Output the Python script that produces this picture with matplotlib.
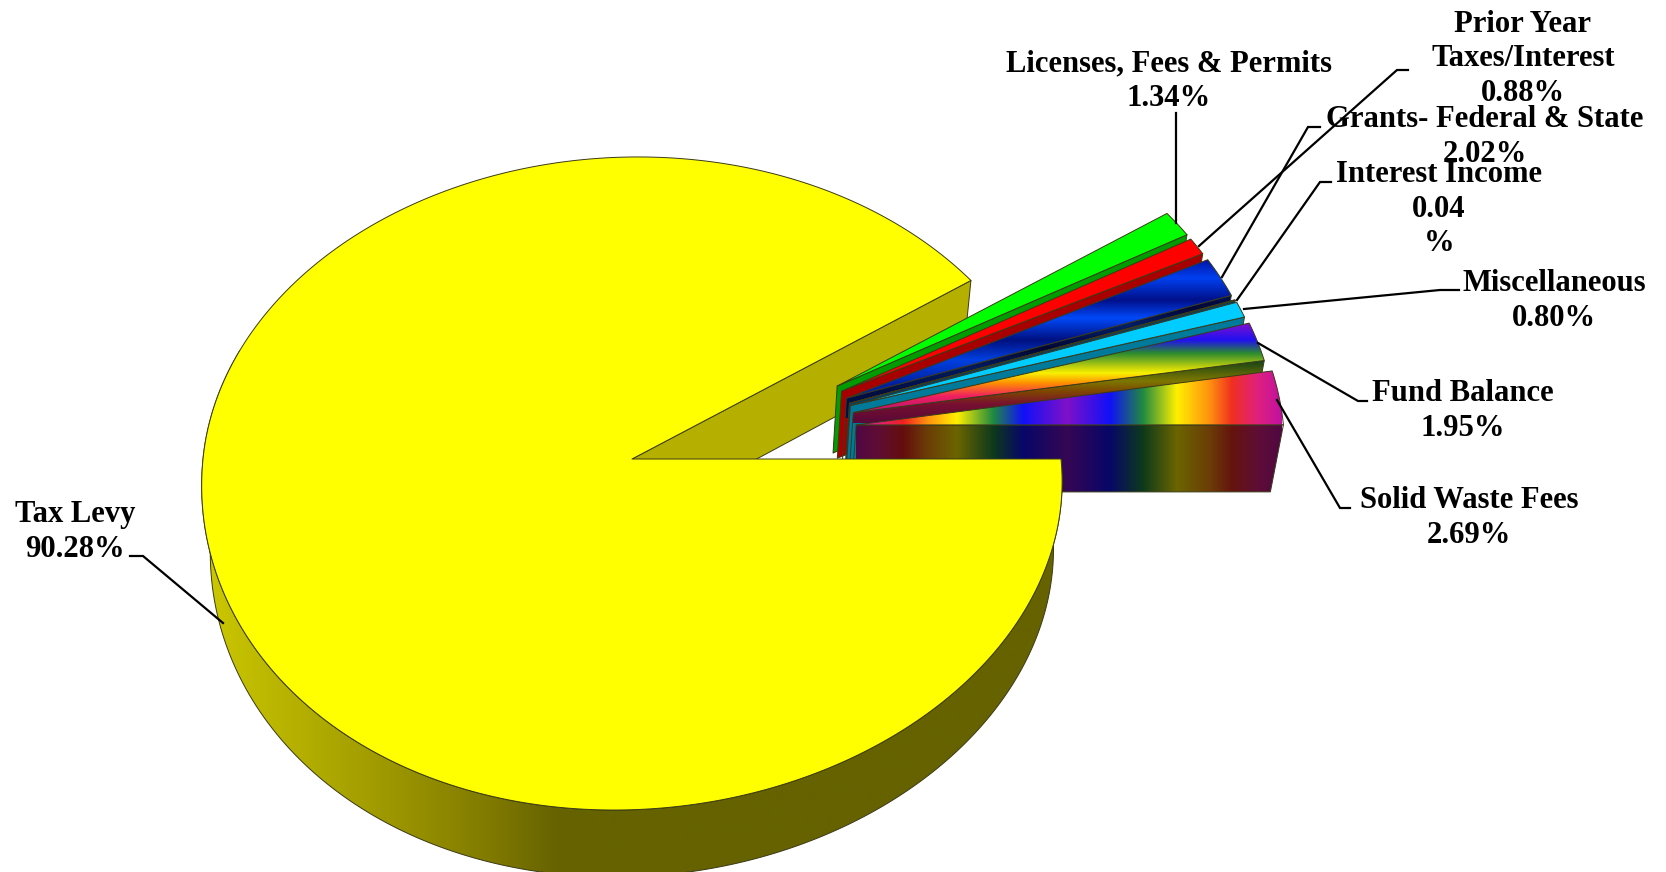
import numpy as np
import matplotlib
matplotlib.use("Agg")
import matplotlib.pyplot as plt
from matplotlib.patches import Polygon
from matplotlib.colors import LinearSegmentedColormap

CATEGORIES = ["Tax Levy", "Licenses, Fees & Permits", "Prior Year Taxes/Interest",
              "Grants- Federal & State", "Interest Income", "Miscellaneous",
              "Fund Balance", "Solid Waste Fees"]
SHARES = [90.28, 1.34, 0.88, 2.02, 0.04, 0.80, 1.95, 2.69]
LABELS = ["Tax Levy\n90.28%", "Licenses, Fees & Permits\n1.34%",
          "Prior Year\nTaxes/Interest\n0.88%", "Grants- Federal & State\n2.02%",
          "Interest Income\n0.04\n%", "Miscellaneous\n0.80%",
          "Fund Balance\n1.95%", "Solid Waste Fees\n2.69%"]

# ---- layout / style (pixels of the 1666x872 canvas) ----
W, H = 1666, 872
CX, CY, RX, RY, PERSP = 632, 459, 429, 324.7, 0.075
DEPTH, TAPER = 67, 0.98
LABEL_POS = [(75, 532), (1169, 81), (1523, 59), (1485, 137), (1439, 209),
             (1554, 301), (1463, 411), (1469, 518)]
LEADERS = [[(130, 556), (143, 556), (223, 623)],
           [(1176, 113), (1176, 223)],
           [(1408, 70), (1397, 70), (1199, 246)],
           [(1320, 127), (1308, 127), (1222, 277)],
           [(1331, 182), (1320, 182), (1237, 300)],
           [(1459, 290), (1440, 290), (1244, 309)],
           [(1367, 401), (1358, 401), (1258, 343)],
           [(1350, 508), (1340, 508), (1277, 400)]]
EDGE = "#3a3a18"
FLAT = {1: ("#00ff00", "#009c00"), 2: ("#ff0000", "#a80000"),
        4: ("#0060a0", "#004070"), 5: ("#00ccff", "#007a9a")}
GRANT_STOPS = [(255, "#000a90"), (278, "#0040f0"), (300, "#00108a"), (318, "#0048f8"),
               (340, "#001080"), (360, "#0040e0"), (385, "#0020a0"), (410, "#0030b0")]
FUND_STOPS = [(323, "#8010d0"), (340, "#2010f0"), (353, "#2a8a30"), (366, "#b8cc10"),
              (373, "#f8f000"), (383, "#ff9000"), (396, "#f02060"), (415, "#b01070")]
WASTE_STOPS = [(856, "#c010a0"), (877, "#e0207f"), (903, "#f02020"), (927, "#ff9010"),
               (957, "#fff000"), (993, "#208a40"), (1023, "#1010f8"), (1067, "#8010c8"),
               (1110, "#1010f8"), (1143, "#208a40"), (1177, "#fff000"), (1210, "#ff9010"),
               (1232, "#f03020"), (1258, "#e0207f"), (1282, "#c010a0")]
WALL_STOPS = [(205, "#ccc800"), (373, "#a29c00"), (490, "#807a00"), (558, "#666200"), (1065, "#666200")]

plt.rcParams["font.family"] = ["Liberation Serif", "DejaVu Serif"]
fig = plt.figure(figsize=(W / 100, H / 100), dpi=100)
ax = fig.add_axes([0, 0, 1, 1])
ax.set_axis_off()


def rim(a_deg, off=(0, 0)):
    a = np.radians(np.atleast_1d(a_deg))
    u, v = np.cos(a), np.sin(a)
    s = 1 / (1 + PERSP * v)
    skew = np.where(v > 0, 6.0, 18.0) * v ** 2 * np.sign(v)
    return np.column_stack([CX + off[0] + RX * u * s + skew, CY + off[1] - RY * v * s])


def lower(pts):
    pts = np.asarray(pts, float)
    return np.column_stack([CX + (pts[:, 0] - CX) * TAPER, pts[:, 1] + DEPTH])


def flat(pts, color, z):
    ax.add_patch(Polygon(pts, closed=True, fc=color, ec=EDGE, lw=0.7, zorder=z, joinstyle="round"))


def graded(pts, stops, axis, z, dim=1.0, shift=0):
    lo, hi = stops[0][0], stops[-1][0]
    cmap = LinearSegmentedColormap.from_list(
        "g", [((p - lo) / (hi - lo), c) for p, c in stops], N=1024)
    t = np.linspace(0, 1, 1024)
    rgb = cmap(t)[:, :3] * dim
    pts = np.asarray(pts)
    if axis == "x":
        im = ax.imshow(rgb[None, :, :], extent=(lo, hi, H, 0), aspect="auto", zorder=z,
                       interpolation="bilinear")
    else:
        im = ax.imshow(rgb[:, None, :], extent=(0, W, hi + shift, lo + shift), aspect="auto",
                       zorder=z, interpolation="bilinear")
    clip = Polygon(pts, closed=True, transform=ax.transData, fc="none", ec="none")
    ax.add_patch(clip)
    im.set_clip_path(clip)
    ax.add_patch(Polygon(pts, closed=True, fc="none", ec=EDGE, lw=0.7, zorder=z + 0.1))


# angles, clockwise from due east
edges = 360 - np.cumsum([0] + SHARES) * 3.6
main_end = edges[1]

# back cut face of the big slice
back_top = np.vstack([[CX, CY], rim(main_end)])
flat(np.vstack([back_top, lower(back_top)[::-1]]), "#b5b000", 1)

# exploded slices, back to front
for i in range(1, len(SHARES)):
    a1, a0 = edges[i], edges[i + 1]
    m = (a0 + a1) / 2
    sm, cm = np.sin(np.radians(m)), np.cos(np.radians(m))
    rim_off = (227 - 0.95 * m, -28 - 72.5 * sm)
    apex = np.array([[CX + 101.5 + 123 * cm, CY - 26.8 - 85.7 * sm]])
    arc = rim(np.linspace(a0, a1, 24), rim_off)
    top = np.vstack([apex, arc])
    side_top = np.vstack([apex, arc[:1]])
    side = np.vstack([side_top, lower(side_top)[::-1]])
    z = 2 + i
    if i in FLAT:
        flat(side, FLAT[i][1], z)
        flat(top, FLAT[i][0], z + 0.3)
    elif i == 3:
        graded(side, GRANT_STOPS, "y", z, dim=0.42, shift=8)
        graded(top, GRANT_STOPS, "y", z + 0.3)
    elif i == 6:
        graded(side, FUND_STOPS, "y", z, dim=0.5, shift=8)
        graded(top, FUND_STOPS, "y", z + 0.3)
    else:
        graded(side, WASTE_STOPS, "x", z, dim=0.42)
        graded(top, WASTE_STOPS, "x", z + 0.3)

# outer wall and top face of the big slice
wall_arc = rim(np.linspace(160, 360, 240))
graded(np.vstack([wall_arc, lower(wall_arc)[::-1]]), WALL_STOPS, "x", 20)
top_arc = rim(np.linspace(edges[0], main_end, 480))
flat(np.vstack([[CX, CY], top_arc]), "#ffff00", 21)

# leader lines and labels
for pts in LEADERS:
    xy = np.array(pts)
    ax.plot(xy[:, 0], xy[:, 1], color="black", lw=1.6, zorder=25, solid_joinstyle="miter")
for text, (x, y) in zip(LABELS, LABEL_POS):
    ax.text(x, y, text, ha="center", va="center", ma="center", fontsize=22.1, fontweight="bold",
            linespacing=1.27, color="black", zorder=30)

ax.set_xlim(0, W)
ax.set_ylim(H, 0)
fig.savefig("out.png", dpi=100, facecolor="white")
